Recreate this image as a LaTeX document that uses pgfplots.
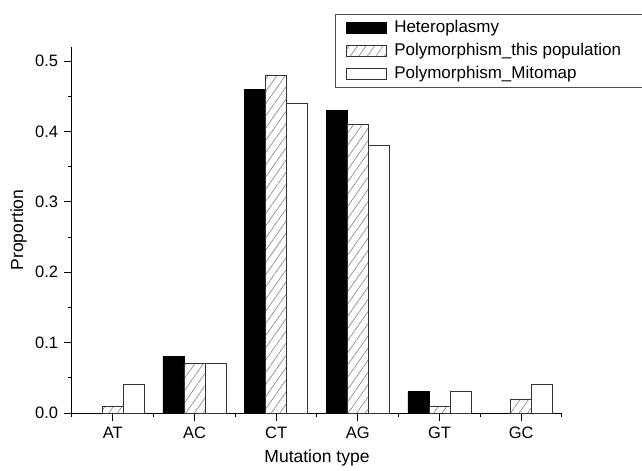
\documentclass[border=0pt]{standalone}
\usepackage{fontspec}
\setmainfont{Liberation Sans}
\usepackage{pgfplots}
\pgfplotsset{compat=1.18}
\usetikzlibrary{patterns.meta}
\pgfplotsset{boxlegend/.style={legend image code/.code={\draw[##1] (0bp,-5.5bp) rectangle (40bp,5.5bp); \path (45bp,0bp);}}}
\begin{document}
\fontsize{17bp}{20bp}\selectfont
\begin{tikzpicture}
\useasboundingbox (-72bp,-58bp) rectangle (570bp,413bp);
\begin{axis}[
  at={(0,0)}, anchor=south west,
  scale only axis, width=490bp, height=366bp,
  xmin=-0.5, xmax=5.5, ymin=0, ymax=0.52,
  axis x line*=bottom, axis y line*=left,
  axis line style={-, line width=1bp, black},
  ybar=0pt, bar width=21bp,
  xtick={0,1,2,3,4,5},
  xticklabels={AT,AC,CT,AG,GT,GC},
  minor xtick={-0.5,0.5,1.5,2.5,3.5,4.5,5.5},
  ytick={0,0.1,0.2,0.3,0.4,0.5},
  minor ytick={0.05,0.15,0.25,0.35,0.45},
  yticklabel style={/pgf/number format/.cd, fixed, fixed zerofill, precision=1},
  /pgf/number format/assume math mode=true,
  tick label style={font=\fontsize{16.5bp}{19bp}\selectfont},
  tick align=outside,
  major tick length=8bp, minor tick length=4bp,
  tick style={black, line width=1bp},
  xlabel={Mutation type}, ylabel={Proportion},
  label style={font=\fontsize{17.5bp}{20bp}\selectfont},
  xlabel style={yshift=0bp},
  ylabel style={yshift=-3bp},
  legend cell align=left,
  legend style={at={(0.5367,1.09)}, anchor=north west, draw=black!70, line width=1bp,
    font=\fontsize{17bp}{20bp}\selectfont, inner xsep=11bp, inner ysep=4bp,
    row sep=4bp},
]
\addplot[fill=black, draw=black, line width=0.8bp, boxlegend]
  coordinates {(0,0) (1,0.08) (2,0.46) (3,0.43) (4,0.03) (5,0)};
\addplot[draw=black!80, line width=0.8bp, pattern={Lines[angle=55,distance=7bp,line width=0.6bp]}, pattern color=gray, boxlegend]
  coordinates {(0,0.01) (1,0.07) (2,0.48) (3,0.41) (4,0.01) (5,0.02)};
\addplot[fill=white, draw=black!80, line width=0.8bp, boxlegend]
  coordinates {(0,0.04) (1,0.07) (2,0.44) (3,0.38) (4,0.03) (5,0.04)};
\legend{Heteroplasmy, Polymorphism\_this population\rule{20bp}{0bp}, Polymorphism\_Mitomap}
\end{axis}
\end{tikzpicture}
\end{document}
